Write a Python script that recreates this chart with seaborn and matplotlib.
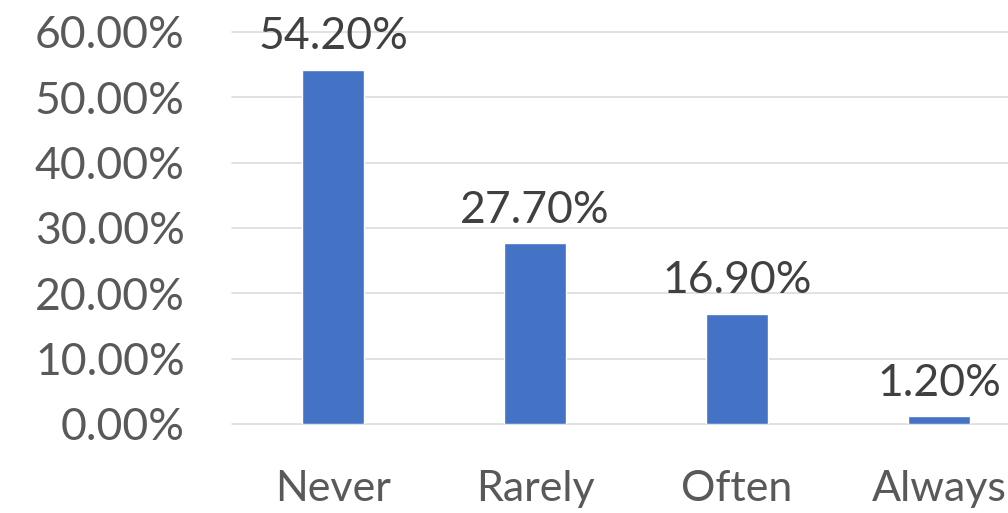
import matplotlib
matplotlib.use("Agg")
import matplotlib.pyplot as plt
import seaborn as sns
import pandas as pd
from matplotlib.ticker import FuncFormatter

categories = ["Never", "Rarely", "Often", "Always"]
shares = [54.20, 27.70, 16.90, 1.20]
y_ticks = [0, 10, 20, 30, 40, 50, 60]

sns.set_theme(style="white")
plt.rcParams["font.family"] = ["Lato", "DejaVu Sans"]

df = pd.DataFrame({"category": categories, "share": shares})

fig = plt.figure(figsize=(10.08, 5.13), dpi=100)
ax = fig.add_axes([232 / 1008, 1 - 424 / 513, 808 / 1008, (424 - 32) / 513])

sns.barplot(data=df, x="category", y="share", color="#4472C4",
            saturation=1, width=0.31, ax=ax, zorder=3)

ax.set_ylim(0, 60)
ax.set_xlim(-0.5, len(categories) - 0.5)
ax.set_yticks(y_ticks)
ax.yaxis.set_major_formatter(FuncFormatter(lambda v, _: f"{v:.2f}%"))
ax.grid(axis="y", color="#D9D9D9", linewidth=1.1, zorder=0)
ax.grid(axis="x", visible=False)
for side in ["top", "right", "left", "bottom"]:
    ax.spines[side].set_visible(False)
for line in ax.get_ygridlines():
    line.set_clip_on(False)

ax.tick_params(axis="y", length=0, pad=34, labelsize=32, labelcolor="#595959")
ax.tick_params(axis="x", length=0, pad=33, labelsize=31, labelcolor="#595959")
ax.set_xlabel("")
ax.set_ylabel("")

for i, v in enumerate(shares):
    ax.annotate(f"{v:.2f}%", xy=(i, v), xytext=(0, 9), textcoords="offset points",
                ha="center", va="bottom", fontsize=32, color="#404040",
                annotation_clip=False)

fig.savefig("out.png", dpi=100)
